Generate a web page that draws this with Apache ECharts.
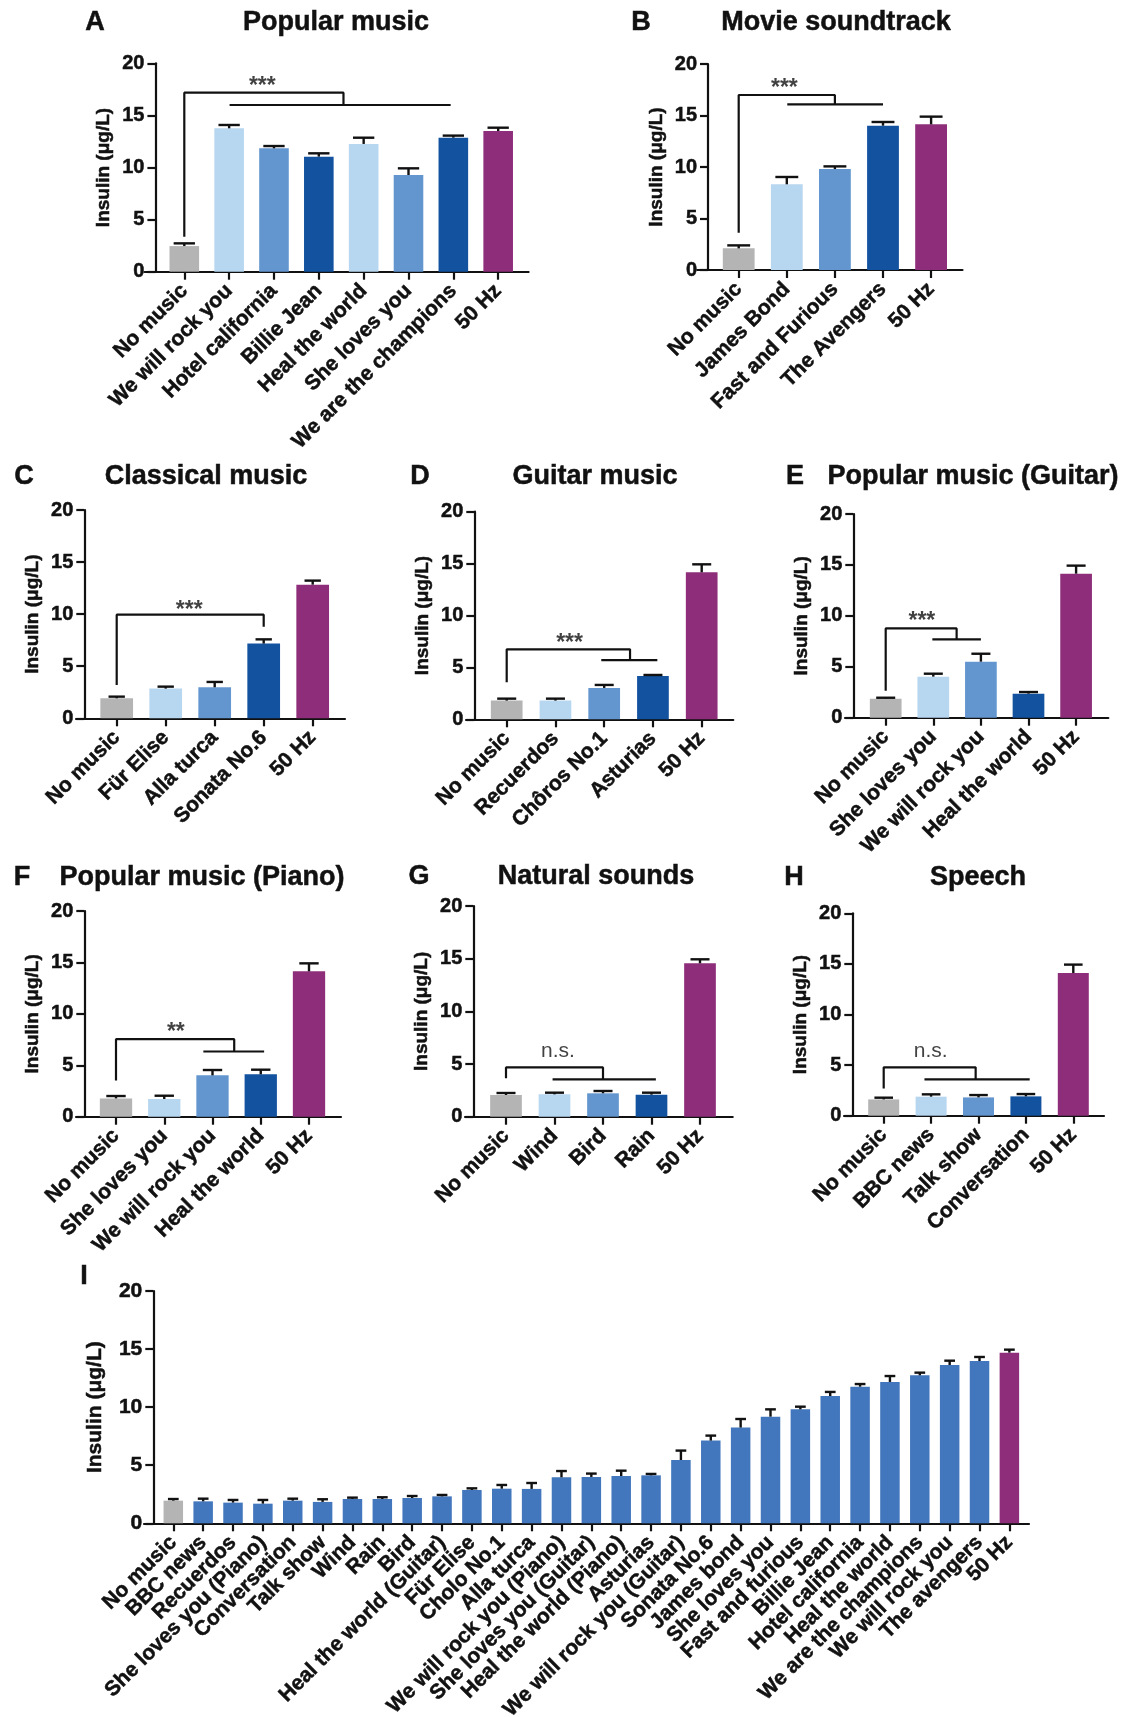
<!DOCTYPE html>
<html>
<head>
<meta charset="utf-8">
<title>Insulin release under different sounds</title>
<script src="https://cdn.jsdelivr.net/npm/echarts@6/dist/echarts.min.js"></script>
<style>
  html, body { margin: 0; padding: 0; background: #fff; }
  #chart { width: 1126px; height: 1717px; }
</style>
</head>
<body>
<div id="chart"></div>
<script>
// values: mean and SEM of insulin (ug/L)
const yTicks = [0, 5, 10, 15, 20];

const catsA = ["No music", "We will rock you", "Hotel california", "Billie Jean", "Heal the world", "She loves you", "We are the champions", "50 Hz"];
const meanA = [2.46, 13.76, 11.84, 11.04, 12.26, 9.28, 12.86, 13.5];
const semA = [0.26, 0.32, 0.22, 0.32, 0.6, 0.64, 0.2, 0.32];

const catsB = ["No music", "James Bond", "Fast and Furious", "The Avengers", "50 Hz"];
const meanB = [2.1, 8.32, 9.8, 14.01, 14.14];
const semB = [0.29, 0.71, 0.26, 0.36, 0.75];

const catsC = ["No music", "Für Elise", "Alla turca", "Sonata No.6", "50 Hz"];
const meanC = [1.92, 2.85, 2.98, 7.17, 12.83];
const semC = [0.16, 0.19, 0.51, 0.41, 0.39];

const catsD = ["No music", "Recuerdos", "Chôros No.1", "Asturias", "50 Hz"];
const meanD = [1.8, 1.8, 3.02, 4.17, 14.16];
const semD = [0.19, 0.19, 0.29, 0.1, 0.77];

const catsE = ["No music", "She loves you", "We will rock you", "Heal the world", "50 Hz"];
const meanE = [1.87, 4.03, 5.5, 2.36, 14.14];
const semE = [0.09, 0.29, 0.78, 0.16, 0.79];

const catsF = ["No music", "She loves you", "We will rock you", "Heal the world", "50 Hz"];
const meanF = [1.78, 1.72, 4.02, 4.12, 14.13];
const semF = [0.23, 0.32, 0.52, 0.45, 0.78];

const catsG = ["No music", "Wind", "Bird", "Rain", "50 Hz"];
const meanG = [2.06, 2.12, 2.22, 2.09, 14.56];
const semG = [0.19, 0.16, 0.22, 0.19, 0.38];

const catsH = ["No music", "BBC news", "Talk show", "Conversation", "50 Hz"];
const meanH = [1.61, 1.88, 1.81, 1.91, 14.1];
const semH = [0.17, 0.23, 0.23, 0.23, 0.83];

const catsI = ["No music", "BBC news", "Recuerdos", "She loves you (Piano)", "Conversation", "Talk show", "Wind", "Rain", "Bird",
  "Heal the world (Guitar)", "Für Elise", "Cholo No.1", "Alla turca", "We will rock you (Piano)", "She loves you (Guitar)",
  "Heal the world (Piano)", "Asturias", "We will rock you (Guitar)", "Sonata No.6", "James bond", "She loves you",
  "Fast and furious", "Billie Jean", "Hotel california", "Heal the world", "We are the champions", "We will rock you",
  "The avengers", "50 Hz"];
const meanI = [1.95, 1.89, 1.78, 1.69, 1.95, 1.84, 2.09, 2.09, 2.18, 2.32, 2.87, 2.98, 2.96, 3.96, 3.99, 4.07, 4.13,
  5.45, 7.12, 8.24, 9.18, 9.81, 10.96, 11.76, 12.17, 12.74, 13.63, 13.97, 14.69];
const semI = [0.14, 0.23, 0.23, 0.32, 0.17, 0.23, 0.12, 0.15, 0.17, 0.12, 0.14, 0.32, 0.51, 0.54, 0.29, 0.46, 0.12,
  0.81, 0.43, 0.74, 0.63, 0.23, 0.35, 0.23, 0.51, 0.23, 0.37, 0.35, 0.26];

// significance brackets: [x start, y start, y top, x drop, y drop, line from, line to] (category units / ug/L)
const bracketA = [0, 3.36, 17.18, 3.55, 16.0, 1.01, 5.94];
const bracketB = [0, 3.62, 16.99, 2.0, 16.08, 1.01, 3.0];
const bracketC = [0, 3.2, 9.95, 3.0, 8.8, null, null];
const bracketD = [0, 3.56, 6.74, 2.53, 5.71, 1.94, 3.09];
const bracketE = [0, 2.65, 8.77, 1.49, 7.69, 0.98, 2.0];
const bracketF = [0, 3.52, 7.54, 2.45, 6.34, 1.81, 3.07];
const bracketG = [0, 3.64, 4.68, 2.0, 3.54, 0.96, 3.09];
const bracketH = [0, 2.7, 4.78, 1.94, 3.59, 0.86, 3.08];
// significance text and where it sits
const sigA = ["***", 1.74, 18.33];
const sigB = ["***", 0.95, 18.19];
const sigC = ["***", 1.48, 10.88];
const sigD = ["***", 1.29, 7.9];
const sigE = ["***", 0.76, 10.0];
const sigF = ["**", 1.24, 8.8];
const sigG = ["n.s.", 1.07, 6.2];
const sigH = ["n.s.", 0.99, 6.4];

const FONT = "Liberation Sans, Arial, Helvetica, sans-serif";
const INK = "#111";
const GREY = "#b4b4b4", LIGHT = "#b7d6f0", MID = "#6396cf", DARK = "#12529f", PURPLE = "#8e2e7a", BLUE = "#4377bd";

function colourFor(i, n, single) {
  if (i === 0) return GREY;
  if (i === n - 1) return PURPLE;
  if (single) return BLUE;
  return [LIGHT, MID, DARK][(i - 1) % 3];
}

// heavy text like the original figure
const boldText = { color: INK, fontFamily: FONT, fontWeight: "bold", textBorderColor: INK, textBorderWidth: 0.5 };

// panel geometry in pixels (axis line ends, y axis x, top/bottom of the value range, first tick, tick step)
const panels = [
  { cats: catsA, mean: meanA, sem: semA, br: bracketA, sig: sigA, title: "Popular music", letter: "A",
    lineL: 144.6, lineR: 528.6, axisX: 155.4, top: 63.3, bottom: 271.7, first: 184.3, step: 44.84, barW: 29.6, cap: 0.72,
    titleX: 336, titleY: 23, letterX: 95 },
  { cats: catsB, mean: meanB, sem: semB, br: bracketB, sig: sigB, title: "Movie soundtrack", letter: "B",
    lineL: 697.2, lineR: 962.5, axisX: 708, top: 64, bottom: 270, first: 738.7, step: 48.1, barW: 31.8, cap: 0.72,
    titleX: 836, titleY: 23, letterX: 641 },
  { cats: catsC, mean: meanC, sem: semC, br: bracketC, sig: sigC, title: "Classical music", letter: "C",
    lineL: 76, lineR: 345, axisX: 84.3, top: 510, bottom: 718.3, first: 116.7, step: 49, barW: 32.7, cap: 0.5,
    titleX: 206, titleY: 477, letterX: 24 },
  { cats: catsD, mean: meanD, sem: semD, br: bracketD, sig: sigD, title: "Guitar music", letter: "D",
    lineL: 466, lineR: 733.3, axisX: 474.3, top: 511.7, bottom: 719.3, first: 506.7, step: 48.75, barW: 31.7, cap: 0.6,
    titleX: 595, titleY: 477, letterX: 420 },
  { cats: catsE, mean: meanE, sem: semE, br: bracketE, sig: sigE, title: "Popular music (Guitar)", letter: "E",
    lineL: 845, lineR: 1108.3, axisX: 853.3, top: 514, bottom: 717.7, first: 885.7, step: 47.6, barW: 31.7, cap: 0.6,
    titleX: 973, titleY: 477, letterX: 795 },
  { cats: catsF, mean: meanF, sem: semF, br: bracketF, sig: sigF, title: "Popular music (Piano)", letter: "F",
    lineL: 76, lineR: 341, axisX: 84.3, top: 911, bottom: 1116.7, first: 116, step: 48.25, barW: 32.3, cap: 0.6,
    titleX: 202, titleY: 878, letterX: 22 },
  { cats: catsG, mean: meanG, sem: semG, br: bracketG, sig: sigG, title: "Natural sounds", letter: "G",
    lineL: 465, lineR: 732.7, axisX: 473.3, top: 906, bottom: 1116.7, first: 506, step: 48.5, barW: 31.7, cap: 0.6,
    titleX: 596, titleY: 877, letterX: 419 },
  { cats: catsH, mean: meanH, sem: semH, br: bracketH, sig: sigH, title: "Speech", letter: "H",
    lineL: 844, lineR: 1104, axisX: 852.3, top: 913.3, bottom: 1115.7, first: 883.7, step: 47.4, barW: 31, cap: 0.6,
    titleX: 978, titleY: 878, letterX: 794 },
  { cats: catsI, mean: meanI, sem: semI, br: null, sig: null, title: "", letter: "I", single: true,
    lineL: 144, lineR: 1029, axisX: 153.3, top: 1291, bottom: 1523.3, first: 173.3, step: 29.86, barW: 19.5, cap: 0.55,
    titleX: 0, titleY: 1277, letterX: 84, big: true }
];

const chart = echarts.init(document.getElementById("chart"), null, { renderer: "canvas" });

const grid = [], xAxis = [], yAxis = [], series = [], graphic = [];
const lineStyle = { color: INK, width: 2.2 };

panels.forEach((p, k) => {
  const n = p.cats.length;
  const lastTick = p.first + (n - 1) * p.step;
  const g = 2 * k;       // plotting grid (value x axis, so brackets can sit between bars)
  const gl = 2 * k + 1;  // label grid: category axis lined up with the bars, carries ticks and names

  grid.push({
    left: p.lineL, top: p.top, width: p.lineR - p.lineL, height: p.bottom - p.top,
    containLabel: false, outerBoundsMode: "none"
  });
  grid.push({
    left: p.first - p.step / 2, top: p.top, width: n * p.step, height: p.bottom - p.top,
    containLabel: false, outerBoundsMode: "none"
  });

  xAxis.push({
    type: "value", gridIndex: g,
    min: -(p.first - p.lineL) / p.step,
    max: (n - 1) + (p.lineR - lastTick) / p.step,
    splitLine: { show: false },
    axisLine: { show: true, onZero: false, lineStyle: lineStyle },
    axisTick: { show: false },
    axisLabel: { show: false }
  });
  xAxis.push({
    type: "category", gridIndex: gl, data: p.cats,
    axisLine: { show: false, onZero: false },
    axisTick: { show: true, alignWithLabel: true, interval: 0, length: 8, lineStyle: lineStyle },
    axisLabel: Object.assign({ interval: 0, rotate: 45, margin: 16, fontSize: 21 }, boldText),
    splitLine: { show: false }
  });

  yAxis.push({
    type: "value", gridIndex: g,
    min: yTicks[0], max: yTicks[yTicks.length - 1], interval: yTicks[1] - yTicks[0],
    offset: -(p.axisX - p.lineL),
    name: "Insulin (μg/L)", nameLocation: "middle", nameGap: p.big ? 48 : 42,
    nameTextStyle: Object.assign({ fontSize: p.big ? 21 : 19 }, boldText),
    splitLine: { show: false },
    axisLine: { show: true, onZero: false, lineStyle: lineStyle },
    axisTick: { show: true, length: 8, lineStyle: lineStyle },
    axisLabel: Object.assign({ margin: 11, fontSize: p.big ? 21 : 20, showMinLabel: true, showMaxLabel: true }, boldText)
  });
  yAxis.push({
    type: "value", gridIndex: gl, show: false,
    min: yTicks[0], max: yTicks[yTicks.length - 1]
  });

  series.push({
    type: "bar", xAxisIndex: g, yAxisIndex: g, barWidth: p.barW, animation: false,
    data: p.mean.map((v, i) => ({ value: [i, v], itemStyle: { color: colourFor(i, n, p.single) } }))
  });

  // one-sided error bars (mean up to mean + SEM)
  series.push({
    type: "custom", xAxisIndex: g, yAxisIndex: g, z: 3, animation: false, silent: true,
    data: p.mean.map((v, i) => [i, v, v + p.sem[i]]),
    renderItem: (params, api) => {
      const lo = api.coord([api.value(0), api.value(1)]);
      const hi = api.coord([api.value(0), api.value(2)]);
      const half = p.barW * p.cap / 2;
      const st = { stroke: INK, lineWidth: 2.4 };
      return {
        type: "group",
        children: [
          { type: "line", shape: { x1: lo[0], y1: lo[1], x2: hi[0], y2: hi[1] }, style: st },
          { type: "line", shape: { x1: hi[0] - half, y1: hi[1], x2: hi[0] + half, y2: hi[1] }, style: st }
        ]
      };
    }
  });

  if (p.br) {
    const b = p.br;
    series.push({
      type: "line", xAxisIndex: g, yAxisIndex: g, symbol: "none", silent: true, animation: false, z: 4,
      lineStyle: lineStyle,
      data: [[b[0], b[1]], [b[0], b[2]], [b[3], b[2]], [b[3], b[4]]]
    });
    if (b[5] !== null) {
      series.push({
        type: "line", xAxisIndex: g, yAxisIndex: g, symbol: "none", silent: true, animation: false, z: 4,
        lineStyle: lineStyle,
        data: [[b[5], b[4]], [b[6], b[4]]]
      });
    }
  }

  if (p.sig) {
    const stars = p.sig[0].indexOf("*") >= 0;
    series.push({
      type: "scatter", xAxisIndex: g, yAxisIndex: g, symbolSize: 1, silent: true, animation: false,
      itemStyle: { color: "rgba(0,0,0,0)" },
      data: [[p.sig[1], p.sig[2]]],
      label: {
        show: true, position: "inside", formatter: p.sig[0],
        offset: [0, stars ? 6 : 0],
        color: INK, fontFamily: FONT, fontSize: stars ? 23 : 21, fontWeight: stars ? "bold" : "normal"
      }
    });
  }

  if (p.title) {
    graphic.push({
      type: "text", x: p.titleX, y: p.titleY, silent: true,
      style: {
        text: p.title, align: "center", verticalAlign: "middle", textAlign: "center", textVerticalAlign: "middle",
        fill: INK, font: "bold 27px " + FONT, stroke: INK, lineWidth: 0.5
      }
    });
  }
  graphic.push({
    type: "text", x: p.letterX, y: p.titleY, silent: true,
    style: {
      text: p.letter, align: "center", verticalAlign: "middle", textAlign: "center", textVerticalAlign: "middle",
      fill: INK, font: "bold 27px " + FONT, stroke: INK, lineWidth: 0.5
    }
  });
});

chart.setOption({
  backgroundColor: "#fff",
  animation: false,
  grid: grid,
  xAxis: xAxis,
  yAxis: yAxis,
  series: series,
  graphic: graphic
});
</script>
</body>
</html>
